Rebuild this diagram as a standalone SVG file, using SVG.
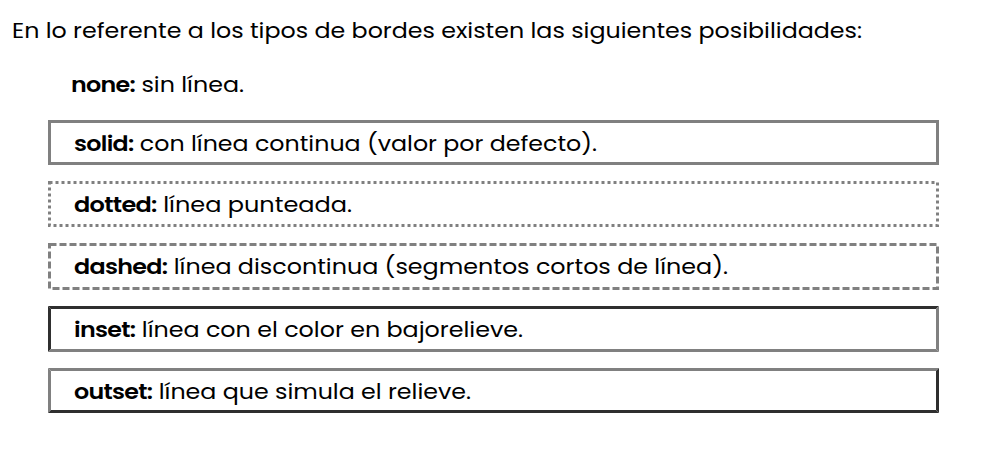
<svg xmlns="http://www.w3.org/2000/svg" width="990" height="467" viewBox="0 0 990 467">
<style>
  text { font-family: "Poppins", "Liberation Sans", "Noto Sans", sans-serif; font-size: 21px; fill: #000; }
  .b { font-weight: 600; letter-spacing: -0.6px; }
  .box { fill: #fff; stroke: #808080; stroke-width: 3; }
  .dark { fill: #2f2f2f; }
  .gray { fill: #808080; }
</style>
<rect x="0" y="0" width="990" height="467" fill="#fff"/>
<g id="heading">
  <text x="12" y="37.5" textLength="850" lengthAdjust="spacingAndGlyphs">En lo referente a los tipos de bordes existen las siguientes posibilidades:</text>
</g>
<g id="none">
  <text x="71" y="91.5" textLength="173" lengthAdjust="spacingAndGlyphs"><tspan class="b">none:</tspan> sin línea.</text>
</g>
<g id="solid">
  <rect class="box" x="49.5" y="121.5" width="888" height="42"/>
  <text x="74" y="151" textLength="523" lengthAdjust="spacingAndGlyphs"><tspan class="b">solid:</tspan> con línea continua (valor por defecto).</text>
</g>
<g id="dotted">
  <rect class="box" x="49.5" y="182.5" width="888" height="43" stroke-dasharray="3 3" stroke-width="2.5"/>
  <text x="74" y="212" textLength="278" lengthAdjust="spacingAndGlyphs"><tspan class="b">dotted:</tspan> línea punteada.</text>
</g>
<g id="dashed">
  <rect class="box" x="49.5" y="244.5" width="888" height="44" stroke-dasharray="7 3" stroke-width="2.5"/>
  <text x="74" y="274" textLength="654" lengthAdjust="spacingAndGlyphs"><tspan class="b">dashed:</tspan> línea discontinua (segmentos cortos de línea).</text>
</g>
<g id="inset">
  <polygon class="dark" points="48,306 939,306 936,309 51,309"/>
  <polygon class="dark" points="48,306 51,309 51,349 48,352"/>
  <polygon class="gray" points="48,352 51,349 936,349 939,352"/>
  <polygon class="gray" points="939,306 939,352 936,349 936,309"/>
  <text x="74" y="337" textLength="449" lengthAdjust="spacingAndGlyphs"><tspan class="b">inset:</tspan> línea con el color en bajorelieve.</text>
</g>
<g id="outset">
  <polygon class="gray" points="48,368 939,368 936,371 51,371"/>
  <polygon class="gray" points="48,368 51,371 51,410 48,413"/>
  <polygon class="dark" points="48,413 51,410 936,410 939,413"/>
  <polygon class="dark" points="939,368 939,413 936,410 936,371"/>
  <text x="74" y="399" textLength="397" lengthAdjust="spacingAndGlyphs"><tspan class="b">outset:</tspan> línea que simula el relieve.</text>
</g>
<g id="connectors"></g>
</svg>
